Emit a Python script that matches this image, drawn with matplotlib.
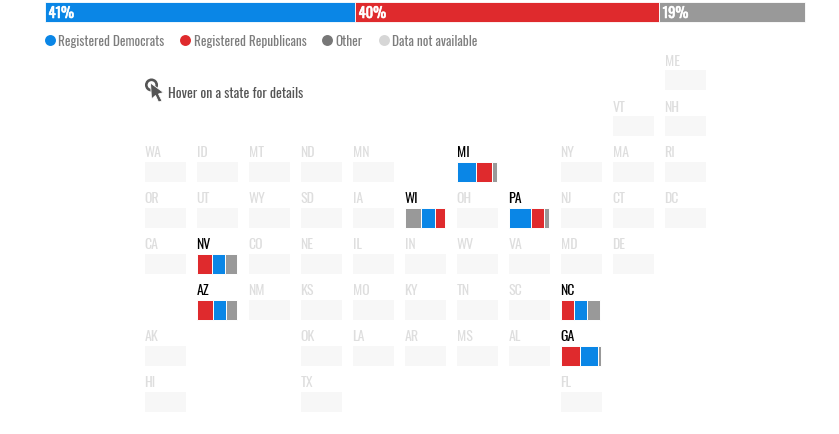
# swing state registration tile grid

import matplotlib
matplotlib.use("Agg")
import matplotlib.pyplot as plt
import matplotlib.patheffects as pe
from matplotlib.patches import Circle, Polygon

plt.rcParams["font.family"] = ["Oswald", "Liberation Sans", "DejaVu Sans"]

BLUE = "#0a86e6"
RED = "#df2a2d"
GRAY = "#999999"

# top bar
total_labels = ["41%", "40%", "19%"]
total_values = [40.8, 40.0, 19.2]
total_colors = [BLUE, RED, GRAY]

# legend
legend_labels = ["Registered Democrats", "Registered Republicans", "Other", "Data not available"]
legend_colors = [BLUE, RED, "#777777", "#d6d6d6"]
legend_x = [50, 185, 327, 384]

# tile grid, one list per row, (state, column)
rows = [
    [("ME", 10)],
    [("VT", 9), ("NH", 10)],
    [("WA", 0), ("ID", 1), ("MT", 2), ("ND", 3), ("MN", 4), ("MI", 6), ("NY", 8), ("MA", 9), ("RI", 10)],
    [("OR", 0), ("UT", 1), ("WY", 2), ("SD", 3), ("IA", 4), ("WI", 5), ("OH", 6), ("PA", 7), ("NJ", 8), ("CT", 9), ("DC", 10)],
    [("CA", 0), ("NV", 1), ("CO", 2), ("NE", 3), ("IL", 4), ("IN", 5), ("WV", 6), ("VA", 7), ("MD", 8), ("DE", 9)],
    [("AZ", 1), ("NM", 2), ("KS", 3), ("MO", 4), ("KY", 5), ("TN", 6), ("SC", 7), ("NC", 8)],
    [("AK", 0), ("OK", 3), ("LA", 4), ("AR", 5), ("MS", 6), ("AL", 7), ("GA", 8)],
    [("HI", 0), ("TX", 3), ("FL", 8)],
]

# share of registered voters, in the order each state draws them
states_order = {
    "MI": ["D", "R", "O"],
    "WI": ["O", "D", "R"],
    "PA": ["D", "R", "O"],
    "NV": ["R", "D", "O"],
    "AZ": ["R", "D", "O"],
    "NC": ["R", "D", "O"],
    "GA": ["R", "D", "O"],
}
states_values = {
    "MI": {"D": 47, "R": 42, "O": 11},
    "WI": {"O": 41, "D": 34, "R": 25},
    "PA": {"D": 56, "R": 33, "O": 11},
    "NV": {"R": 37, "D": 34, "O": 29},
    "AZ": {"R": 40, "D": 33, "O": 27},
    "NC": {"R": 33, "D": 33, "O": 34},
    "GA": {"R": 48, "D": 46, "O": 6},
}
party_colors = {"D": BLUE, "R": RED, "O": GRAY}

fig = plt.figure(figsize=(8.39, 4.35), dpi=100)
ax = fig.add_axes([0, 0, 1, 1])
ax.set_xlim(0, 839)
ax.set_ylim(435, 0)
ax.axis("off")

# top bar
left = 45
for label, value, color in zip(total_labels, total_values, total_colors):
    width = value * 7.6
    ax.barh(13, width, height=20, left=left, color=color, edgecolor="white", linewidth=0.6)
    ax.text(left + 3.5, 14.5, label, color="white", fontsize=10.5, va="center",
            path_effects=[pe.withStroke(linewidth=0.4, foreground="white")])
    left += width

# legend
for x, label, color in zip(legend_x, legend_labels, legend_colors):
    ax.scatter([x], [41], s=62, color=color, linewidths=0)
    ax.text(x + 8.5, 42, label, color="#7d7d7d", fontsize=9.5, va="center")

# hover hint
ax.add_patch(Circle((151.5, 86), 5.2, fill=False, edgecolor="#555555", linewidth=1.9))
ax.add_patch(Polygon([(150.5, 84), (163.5, 93.5), (158.5, 95), (162, 102), (158.5, 103), (155.5, 96.5), (151.5, 100)],
                     closed=True, facecolor="#555555", edgecolor="white", linewidth=0.6))
ax.text(168, 93, "Hover on a state for details", color="#555555", fontsize=10, va="center")

# state tiles
for r, row in enumerate(rows):
    y = 70.5 + r * 46
    for state, col in row:
        x = 145 + col * 52
        active = state in states_values
        ax.text(x - 0.5, y - 9.5, state, color="black" if active else "#dedede", fontsize=10, va="center")
        if not active:
            ax.barh(y + 10, 40.5, height=20, left=x, color="#f7f7f7", linewidth=0)
            continue
        left = x
        for party in states_order[state]:
            width = states_values[state][party] * 0.395
            ax.barh(y + 10, width, height=20, left=left, color=party_colors[party],
                    edgecolor="white", linewidth=0.7)
            left += width

fig.savefig("out.png", dpi=100)
